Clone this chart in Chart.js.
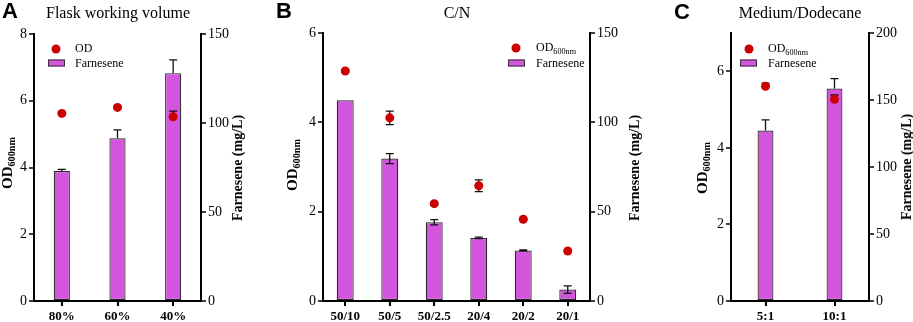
<!DOCTYPE html>
<html>
<head>
<meta charset="utf-8">
<script src="https://cdn.jsdelivr.net/npm/chart.js@4/dist/chart.umd.min.js"></script>
<style>
  body { margin: 0; background: #fff; }
  #wrap { position: relative; width: 913px; height: 322px; overflow: hidden; font-family: "Liberation Serif", serif; }
  canvas { position: absolute; left: 0; top: 0; }
  .lbl { position: absolute; font-family: "Liberation Sans", Arial, sans-serif; font-weight: bold; font-size: 22px; line-height: 1; }
  .ttl { position: absolute; transform: translate(-50%, -50%); font-size: 16px; white-space: nowrap; }
  .vt { position: absolute; transform: translate(-50%, -50%) rotate(-90deg); font-size: 14px; font-weight: bold; white-space: nowrap; }
  .vt.od { font-size: 15px; }
  .vt sub, .lg sub { font-size: 0.68em; vertical-align: -0.25em; }
  .lg { position: absolute; font-size: 12px; transform: translateY(-50%); white-space: nowrap; }
  .dot { position: absolute; width: 9px; height: 9px; border-radius: 50%; background: #cc0000; transform: translate(-50%, -50%); }
  .box { position: absolute; width: 15px; height: 5px; background: #d355de; border: 1px solid #333; transform: translateY(-50%); }
</style>
</head>
<body>
<div id="wrap">
  <canvas id="chartA" width="913" height="322"></canvas>
  <canvas id="chartB" width="913" height="322"></canvas>
  <canvas id="chartC" width="913" height="322"></canvas>

  <div class="lbl" style="left:2px;top:0px;">A</div>
  <div class="lbl" style="left:276px;top:0px;">B</div>
  <div class="lbl" style="left:674px;top:1px;">C</div>

  <div class="ttl" style="left:118px;top:13px;">Flask working volume</div>
  <div class="ttl" style="left:457px;top:13px;">C/N</div>
  <div class="ttl" style="left:800px;top:13px;">Medium/Dodecane</div>

  <div class="vt od" style="left:8px;top:163px;">OD<sub>600nm</sub></div>
  <div class="vt" style="left:238px;top:168px;">Farnesene (mg/L)</div>
  <div class="vt od" style="left:293px;top:165px;">OD<sub>600nm</sub></div>
  <div class="vt" style="left:635px;top:168px;">Farnesene (mg/L)</div>
  <div class="vt od" style="left:703px;top:168px;">OD<sub>600nm</sub></div>
  <div class="vt" style="left:907px;top:167px;">Farnesene (mg/L)</div>

  <span class="dot" style="left:56px;top:49px;"></span>
  <div class="lg" style="left:75px;top:48px;">OD</div>
  <span class="box" style="left:48px;top:63px;"></span>
  <div class="lg" style="left:75px;top:63px;">Farnesene</div>

  <span class="dot" style="left:516px;top:48px;"></span>
  <div class="lg" style="left:536px;top:48px;">OD<sub>600nm</sub></div>
  <span class="box" style="left:508px;top:63px;"></span>
  <div class="lg" style="left:536px;top:63px;">Farnesene</div>

  <span class="dot" style="left:749px;top:49px;"></span>
  <div class="lg" style="left:768px;top:49px;">OD<sub>600nm</sub></div>
  <span class="box" style="left:740px;top:63px;"></span>
  <div class="lg" style="left:768px;top:63px;">Farnesene</div>
</div>

<script>
const catsA = ['80%', '60%', '40%'];
const farnA = [73.0, 91.4, 128.0];
const farnErrA = [1.0, 4.7, 7.5];
const odA = [5.62, 5.80, 5.52];
const odErrA = [0.03, 0.03, 0.17];

const catsB = ['50/10', '50/5', '50/2.5', '20/4', '20/2', '20/1'];
const farnB = [112.4, 79.7, 44.1, 35.3, 28.3, 6.4];
const farnErrB = [0, 2.8, 1.5, 0.4, 0.3, 2.1];
const odB = [5.15, 4.10, 2.18, 2.58, 1.83, 1.12];
const odErrB = [0.02, 0.15, 0.03, 0.13, 0.02, 0.02];

const catsC = ['5:1', '10:1'];
const farnC = [127.2, 158.6];
const farnErrC = [8.0, 7.4];
const odC = [5.61, 5.27];
const odErrC = [0.08, 0.11];

const barColor = '#d355de';
const dotColor = '#cc0000';
const W = 913, H = 322;

function drawErrors(chart, index) {
    const ds = chart.data.datasets[index];
    if (!ds.err) return;
    const meta = chart.getDatasetMeta(index);
    const yScale = chart.scales[ds.yAxisID];
    const ctx = chart.ctx;
    ctx.save();
    ctx.strokeStyle = '#111';
    ctx.lineWidth = 1.3;
    meta.data.forEach((el, i) => {
        if (!ds.err[i]) return;
        const v = ds.data[i];
        const top = yScale.getPixelForValue(v + ds.err[i]);
        const bot = ds.twoSided ? yScale.getPixelForValue(v - ds.err[i]) : yScale.getPixelForValue(v);
        const half = ds.capHalf;
        ctx.beginPath();
        ctx.moveTo(el.x, top);
        ctx.lineTo(el.x, bot);
        ctx.moveTo(el.x - half, top);
        ctx.lineTo(el.x + half, top);
        if (ds.twoSided) {
            ctx.moveTo(el.x - half, bot);
            ctx.lineTo(el.x + half, bot);
        }
        ctx.stroke();
    });
    ctx.restore();
}

const errorBars = {
    id: 'errorBars',
    beforeDatasetDraw(chart, args) {
        if (chart.data.datasets[args.index].type === 'line') drawErrors(chart, args.index);
    },
    afterDatasetDraw(chart, args) {
        if (chart.data.datasets[args.index].type !== 'line') drawErrors(chart, args.index);
    }
};

function axisStyle(extra) {
    return Object.assign({
        border: { display: true, color: '#000', width: 2 },
        grid: { drawOnChartArea: false, color: '#000', lineWidth: 2, tickLength: 5, tickWidth: 1.5 },
        ticks: { color: '#000', padding: 2, font: { family: 'Liberation Serif', size: 14 } }
    }, extra);
}

function makePanel(id, p) {
    const ctx = document.getElementById(id).getContext('2d');
    const leftW = 30, rightW = 30, xH = 21;
    return new Chart(ctx, {
        type: 'bar',
        data: {
            labels: p.cats,
            datasets: [
                {
                    type: 'line',
                    label: 'OD',
                    data: p.od,
                    err: p.odErr,
                    twoSided: p.twoSided,
                    capHalf: 4,
                    yAxisID: 'y',
                    showLine: false,
                    pointRadius: 4.5,
                    pointBackgroundColor: dotColor,
                    pointBorderWidth: 0,
                    order: 0
                },
                {
                    type: 'bar',
                    label: 'Farnesene',
                    data: p.farn,
                    err: p.farnErr,
                    twoSided: p.twoSided,
                    capHalf: 4,
                    yAxisID: 'y2',
                    backgroundColor: barColor,
                    borderColor: '#2a2a2a',
                    borderWidth: 1.2,
                    borderSkipped: false,
                    categoryPercentage: 1,
                    barPercentage: p.barFrac,
                    order: 1
                }
            ]
        },
        options: {
            responsive: false,
            animation: false,
            events: [],
            layout: {
                padding: {
                    left: p.left - leftW,
                    right: W - p.right - rightW,
                    top: p.top,
                    bottom: H - p.bottom - xH
                }
            },
            plugins: { legend: { display: false }, tooltip: { enabled: false } },
            scales: {
                x: axisStyle({
                    offset: true,
                    grid: { drawOnChartArea: false, offset: false, color: '#000', lineWidth: 2, tickLength: 5 },
                    ticks: { color: '#000', padding: 3, autoSkip: false, maxRotation: 0,
                        font: { family: 'Liberation Serif', size: 13, weight: 'bold' } },
                    afterFit: s => { s.height = xH; }
                }),
                y: axisStyle({
                    position: 'left',
                    min: 0,
                    max: p.odMax,
                    afterBuildTicks: s => { s.ticks = p.odTicks.map(v => ({ value: v })); },
                    afterFit: s => { s.width = leftW; }
                }),
                y2: axisStyle({
                    position: 'right',
                    min: 0,
                    max: p.farnMax,
                    afterBuildTicks: s => { s.ticks = p.farnTicks.map(v => ({ value: v })); },
                    afterFit: s => { s.width = rightW; }
                })
            }
        },
        plugins: [errorBars]
    });
}

makePanel('chartA', {
    cats: catsA, farn: farnA, farnErr: farnErrA, od: odA, odErr: odErrA,
    twoSided: false, barFrac: 0.29,
    odMax: 8, odTicks: [0, 2, 4, 6, 8], farnMax: 150, farnTicks: [0, 50, 100, 150],
    left: 34, right: 201, top: 34, bottom: 301
});

makePanel('chartB', {
    cats: catsB, farn: farnB, farnErr: farnErrB, od: odB, odErr: odErrB,
    twoSided: true, barFrac: 0.38,
    odMax: 6, odTicks: [0, 2, 4, 6], farnMax: 150, farnTicks: [0, 50, 100, 150],
    left: 323, right: 590, top: 33, bottom: 301
});

makePanel('chartC', {
    cats: catsC, farn: farnC, farnErr: farnErrC, od: odC, odErr: odErrC,
    twoSided: false, barFrac: 0.23,
    odMax: 7, odTicks: [0, 2, 4, 6], farnMax: 200, farnTicks: [0, 50, 100, 150, 200],
    left: 731, right: 869, top: 33, bottom: 301
});
</script>
</body>
</html>
